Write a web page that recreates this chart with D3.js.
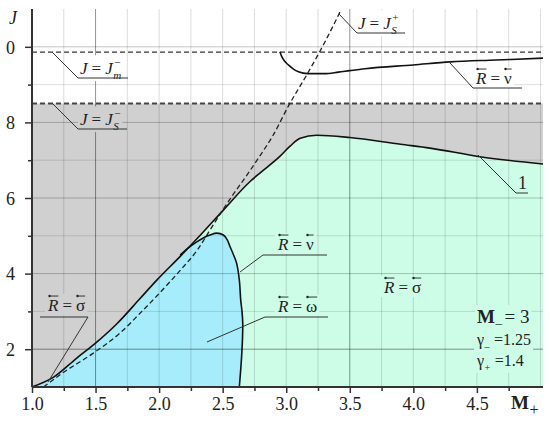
<!DOCTYPE html>
<html><head><meta charset="utf-8">
<script src="https://cdn.jsdelivr.net/npm/d3@7"></script>
<style>
body{margin:0;background:#fff}
svg{display:block}
text{font-family:"Liberation Serif","Times New Roman",Times,serif;fill:#222}
</style>
</head><body>
<svg id="c" width="550" height="422"></svg>
<script>
// ---------- data ----------
// Curve "1": boundary between grey and coloured regions
const curve1M = [1.0,1.17,1.35,1.5,1.67,1.85,1.98,2.17,2.32,2.5,2.72,2.8,2.95,3.03,3.11,3.24,3.5,3.9,4.13,4.51,5.02];
const curve1J = [1.0,1.26,1.76,2.16,2.68,3.34,3.82,4.47,5.0,5.66,6.45,6.68,7.1,7.37,7.58,7.66,7.6,7.42,7.32,7.1,6.9];
// Dashed curve J = J_S^+
const jsPlusM = [1.09,1.24,1.48,1.69,1.85,2.09,2.17,2.3,2.4,2.5,2.58,2.7,2.8,2.89,3.02,3.16,3.3,3.43];
const jsPlusJ = [1.0,1.37,1.89,2.42,2.95,3.8,4.1,4.62,5.15,5.68,6.08,6.65,7.15,7.62,8.45,9.25,10.1,10.97];
// Lower R = nu curve (bounds the cyan region)
const nuLowM = [2.165,2.23,2.296,2.35,2.40,2.453,2.505,2.535,2.558,2.585,2.61,2.631,2.642,2.652,2.658,2.655,2.645,2.631];
const nuLowJ = [4.49,4.68,4.84,4.95,5.02,5.07,5.02,4.9,4.71,4.5,4.27,3.83,3.30,3.0,2.69,2.2,1.6,1.0];
// Upper R = nu curve
const nuTopM = [2.95,2.965,2.99,3.017,3.057,3.096,3.17,3.3,3.41,3.5,3.62,4.0,4.29,4.65,5.02];
const nuTopJ = [9.87,9.74,9.61,9.52,9.41,9.34,9.29,9.29,9.33,9.37,9.42,9.52,9.6,9.65,9.7];
// Horizontal levels
const jmMinus = 9.86;
const jsMinus = 8.5;
// Axes
const xDomain = [1, 5.02];
const yDomain = [1, 11];
const xTickValues = [1.0,1.5,2.0,2.5,3.0,3.5,4.0,4.5];
const xTickLabels = ["1.0","1.5","2.0","2.5","3.0","3.5","4.0","4.5"];
const xMinorTicks = [1.25,1.75,2.25,2.75,3.25,3.75,4.25,4.75];
const yTickValues = [2,4,6,8,10];
const yTickLabels = ["2","4","6","8","0"];
const yMinorTicks = [3,5,7,9];
const gridM = [1.25,1.5,1.75,2.0,2.25,2.5,2.75,3.0,3.25,3.5,3.75,4.0,4.25,4.5,4.75,5.0];
const gridJ = [2,3,4,5,6,7,8,9,10];

// ---------- drawing ----------
const FONT = "'Liberation Serif','Times New Roman',Times,serif";
const GRAY = "#d0d0d0", GREEN = "#cdfde7", CYAN = "#a6ecfa", INK = "#222";
const svg = d3.select("#c");
const x = d3.scaleLinear().domain(xDomain).range([32, 543]);
const y = d3.scaleLinear().domain(yDomain).range([387, 9]);

const zip = (a, b) => a.map((v, i) => [v, b[i]]);
const c1 = zip(curve1M, curve1J);
const sp = zip(jsPlusM, jsPlusJ);
const nl = zip(nuLowM, nuLowJ);
const nt = zip(nuTopM, nuTopJ);

// grey band (below J = J_S^-)
svg.append("rect")
  .attr("x", x(xDomain[0])).attr("y", y(jsMinus))
  .attr("width", x(xDomain[1]) - x(xDomain[0]))
  .attr("height", y(yDomain[0]) - y(jsMinus))
  .attr("fill", GRAY);

// green area under curve 1
const area1 = d3.area().x(d => x(d[0])).y0(y(yDomain[0])).y1(d => y(d[1])).curve(d3.curveMonotoneX);
svg.append("path").attr("d", area1(c1)).attr("fill", GREEN);

// cyan region = under curve 1, left of lower R=nu curve
const lineNu = d3.line().x(d => x(d[0])).y(d => y(d[1])).curve(d3.curveCatmullRom.alpha(0.5));
const nuPath = lineNu(nl);
const clipD = "M" + x(xDomain[0]) + "," + y(yDomain[1]) +
  "L" + x(nl[0][0]) + "," + y(yDomain[1]) +
  "L" + nuPath.slice(1) +
  "L" + x(xDomain[0]) + "," + y(yDomain[0]) + "Z";
svg.append("clipPath").attr("id", "cyanClip").append("path").attr("d", clipD);
svg.append("path").attr("d", area1(c1)).attr("fill", CYAN).attr("clip-path", "url(#cyanClip)");

// grid
const gridCol = (v, kind) => {
  if (kind === "m") return (v === 1.5 || v === 3.5) ? "rgba(0,0,0,0.42)" : "rgba(0,0,0,0.14)";
  if (v === 2) return "rgba(0,0,0,0.42)";
  return v % 2 === 0 ? "rgba(0,0,0,0.24)" : "rgba(0,0,0,0.13)";
};
const grid = svg.append("g");
grid.selectAll(".gv").data(gridM).join("line")
  .attr("x1", d => x(d)).attr("x2", d => x(d))
  .attr("y1", y(yDomain[1])).attr("y2", y(yDomain[0]))
  .attr("stroke", d => gridCol(d, "m")).attr("stroke-width", 1);
grid.selectAll(".gh").data(gridJ).join("line")
  .attr("x1", x(xDomain[0])).attr("x2", x(xDomain[1]))
  .attr("y1", d => y(d)).attr("y2", d => y(d))
  .attr("stroke", d => gridCol(d, "j")).attr("stroke-width", 1);

// curves
const lineMono = d3.line().x(d => x(d[0])).y(d => y(d[1])).curve(d3.curveMonotoneX);
const curves = svg.append("g");
curves.append("line").attr("x1", x(xDomain[0])).attr("x2", x(xDomain[1]))
  .attr("y1", y(jmMinus)).attr("y2", y(jmMinus))
  .attr("stroke", "#333").attr("stroke-width", 1.2).attr("stroke-dasharray", "5,3");
curves.append("line").attr("x1", x(xDomain[0])).attr("x2", x(xDomain[1]))
  .attr("y1", y(jsMinus)).attr("y2", y(jsMinus))
  .attr("stroke", "#444").attr("stroke-width", 2).attr("stroke-dasharray", "5,3");
curves.append("path").attr("d", lineMono(c1)).attr("fill", "none").attr("stroke", "#111").attr("stroke-width", 1.6);
curves.append("path").attr("d", nuPath).attr("fill", "none").attr("stroke", "#111").attr("stroke-width", 1.6);
curves.append("path").attr("d", lineMono(nt)).attr("fill", "none").attr("stroke", "#111").attr("stroke-width", 1.6);
curves.append("path").attr("d", lineMono(sp)).attr("fill", "none").attr("stroke", "#222")
  .attr("stroke-width", 1.3).attr("stroke-dasharray", "5,3");

// label helper (draws a background box behind the text)
const labels = svg.append("g");
const leaders = svg.append("g");
function mathLabel(x0, y0, size, parts, bg) {
  const g = labels.append("g");
  const rect = bg ? g.append("rect").attr("fill", bg) : null;
  let cx = x0;
  parts.forEach(p => {
    cx += p.pl || 0;
    if (p.sub !== undefined || p.sup !== undefined) {
      const s = p.ss || size * 0.65;
      let w = 0;
      if (p.sub !== undefined) {
        const t = g.append("text").attr("x", cx + 0.5).attr("y", y0 + (p.sdy || size * 0.3))
          .attr("font-size", s).attr("font-style", p.it ? "italic" : "normal").text(p.sub);
        w = Math.max(w, t.node().getComputedTextLength());
      }
      if (p.sup !== undefined) {
        const t = g.append("text").attr("x", cx + 1.5).attr("y", y0 - size * 0.45)
          .attr("font-size", s).text(p.sup);
        w = Math.max(w, t.node().getComputedTextLength());
      }
      cx += w + 1;
    } else {
      const t = g.append("text").attr("x", cx).attr("y", y0)
        .attr("font-size", p.size || size)
        .attr("font-style", p.it ? "italic" : "normal")
        .attr("font-weight", p.b ? "bold" : "normal").text(p.t);
      const w = t.node().getComputedTextLength();
      if (p.arrow) {
        const ay = y0 - size * 0.88;
        g.append("line").attr("x1", cx + 1.5).attr("x2", cx + w).attr("y1", ay).attr("y2", ay)
          .attr("stroke", INK).attr("stroke-width", 0.9);
        g.append("circle").attr("cx", cx + 1.5).attr("cy", ay).attr("r", 1.2).attr("fill", INK);
      }
      cx += w;
    }
    cx += p.pr || 0;
  });
  if (rect) {
    const bb = g.node().getBBox();
    rect.attr("x", bb.x - 2).attr("y", bb.y - 1).attr("width", bb.width + 4).attr("height", bb.height + 1);
  }
  return g;
}
function leader(pts) {
  leaders.append("path").attr("d", d3.line()(pts)).attr("fill", "none")
    .attr("stroke", "#333").attr("stroke-width", 1);
}

// axes
const ax = svg.append("g");
const yAxis = ax.append("g").attr("transform", `translate(${x(xDomain[0])},0)`)
  .call(d3.axisLeft(y).tickValues(yTickValues).tickSize(7).tickPadding(10)
    .tickFormat((d, i) => yTickLabels[i]));
ax.append("g").attr("transform", `translate(${x(xDomain[0])},0)`)
  .call(d3.axisLeft(y).tickValues(yMinorTicks).tickSize(4).tickFormat(""))
  .select(".domain").remove();
const xAxis = ax.append("g").attr("transform", `translate(0,${y(yDomain[0])})`)
  .call(d3.axisBottom(x).tickValues(xTickValues).tickSize(6).tickPadding(6)
    .tickFormat((d, i) => xTickLabels[i]));
ax.append("g").attr("transform", `translate(0,${y(yDomain[0])})`)
  .call(d3.axisBottom(x).tickValues(xMinorTicks).tickSize(4).tickFormat(""))
  .select(".domain").remove();
ax.selectAll("g").attr("font-family", FONT);
ax.selectAll(".domain").attr("stroke", "#333").attr("stroke-width", 2);
ax.selectAll(".tick line").attr("stroke", "#333").attr("stroke-width", 1.5);
ax.selectAll(".tick text").attr("font-family", FONT)
  .attr("font-size", 18).attr("fill", INK);
yAxis.selectAll(".tick text").attr("dy", "0.35em");
xAxis.selectAll(".tick text").attr("y", 10).attr("dy", "0.71em");
yAxis.select(".domain").attr("d", `M0,${y(yDomain[1])}V${y(yDomain[0])}`);
xAxis.select(".domain").attr("d", `M${x(xDomain[0])},0H${x(xDomain[1])}`);

// axis titles
mathLabel(9, 24, 18, [{ t: "J", it: true }]);
mathLabel(511, 409, 19, [{ t: "M", b: true }, { sub: "+", ss: 16, sdy: 6 }]);

// annotations
mathLabel(80, 74, 17, [{ t: "J", it: true }, { t: "=", pl: 4, pr: 4 }, { t: "J", it: true }, { sub: "m", sup: "\u2212", it: true }], "#fff");
leader([[52, 52], [78, 78], [128, 78]]);
mathLabel(80, 125, 17, [{ t: "J", it: true }, { t: "=", pl: 4, pr: 4 }, { t: "J", it: true }, { sub: "S", sup: "\u2212", it: true }], GRAY);
leader([[52, 103], [78, 129], [127, 129]]);
mathLabel(358, 29, 17, [{ t: "J", it: true }, { t: "=", pl: 4, pr: 4 }, { t: "J", it: true }, { sub: "S", sup: "+", it: true }], "#fff");
leader([[339, 14], [357, 33], [405, 33]]);
mathLabel(476, 84, 17, [{ t: "R", it: true, arrow: true }, { t: "=", pl: 4, pr: 4 }, { t: "\u03bd", arrow: true }], "#fff");
leader([[450, 63], [473, 88], [522, 88]]);
mathLabel(518, 189, 18, [{ t: "1" }]);
leader([[478, 155], [516, 193], [528, 193]]);
mathLabel(278, 250, 17, [{ t: "R", it: true, arrow: true }, { t: "=", pl: 4, pr: 4 }, { t: "\u03bd", arrow: true }], GREEN);
leader([[240, 272], [263, 255], [327, 255]]);
mathLabel(278, 312, 17, [{ t: "R", it: true, arrow: true }, { t: "=", pl: 4, pr: 4 }, { t: "\u03c9", arrow: true }], GREEN);
leader([[207, 342], [265, 317], [328, 317]]);
mathLabel(384, 293, 17, [{ t: "R", it: true, arrow: true }, { t: "=", pl: 4, pr: 4 }, { t: "\u03c3", arrow: true }], GREEN);
mathLabel(48, 311, 17, [{ t: "R", it: true, arrow: true }, { t: "=", pl: 4, pr: 4 }, { t: "\u03c3", arrow: true }], GRAY);
leader([[40, 317], [88, 317], [48, 382]]);
mathLabel(477, 323, 19, [{ t: "M", b: true }, { sub: "\u2013", ss: 13, sdy: 4 }, { t: "= 3", pl: 2 }], GREEN);
mathLabel(477, 345, 16, [{ t: "\u03b3" }, { sub: "\u2013", ss: 10 }, { t: "=1.25", pl: 4 }], GREEN);
mathLabel(477, 366, 16, [{ t: "\u03b3" }, { sub: "+", ss: 10 }, { t: "=1.4", pl: 4 }], GREEN);
</script>
</body></html>
